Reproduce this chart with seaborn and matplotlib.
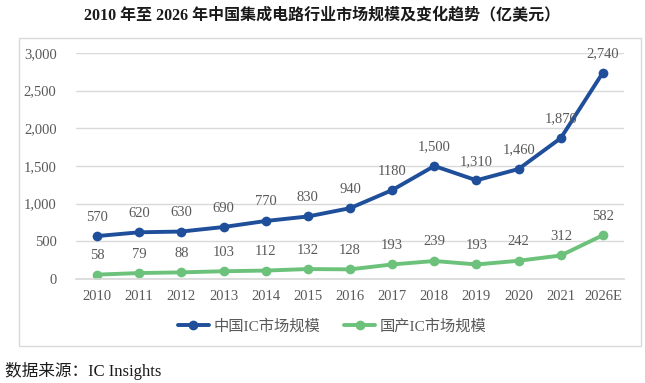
import matplotlib
matplotlib.use("Agg")
import matplotlib.pyplot as plt
import seaborn as sns
import pandas as pd
from matplotlib.patches import Rectangle
from matplotlib.lines import Line2D

years = ["2010", "2011", "2012", "2013", "2014", "2015", "2016", "2017", "2018", "2019", "2020", "2021", "2026E"]
china_ic = [570, 620, 630, 690, 770, 830, 940, 1180, 1500, 1310, 1460, 1870, 2740]
china_labels = ["570", "620", "630", "690", "770", "830", "940", "1180", "1,500", "1,310", "1,460", "1,870", "2,740"]
domestic_ic = [58, 79, 88, 103, 112, 132, 128, 193, 239, 193, 242, 312, 582]
domestic_labels = ["58", "79", "88", "103", "112", "132", "128", "193", "239", "193", "242", "312", "582"]
series_names = ["中国IC市场规模", "国产IC市场规模"]
yticks = [0, 500, 1000, 1500, 2000, 2500, 3000]
title = "2010 年至 2026 年中国集成电路行业市场规模及变化趋势（亿美元）"
source = "数据来源：IC Insights"

sns.set_theme(style="white")
FONT = ["Liberation Serif", "Noto Sans CJK SC", "DejaVu Sans"]
plt.rcParams["font.family"] = FONT

BLUE = "#1F4E9A"
GREEN = "#6CC27A"
GRAY_TXT = "#595959"

df = pd.DataFrame({
    "year": years * 2,
    "value": china_ic + domestic_ic,
    "series": [series_names[0]] * len(years) + [series_names[1]] * len(years),
})

fig = plt.figure(figsize=(6.45, 3.83), dpi=100)
W, H = 645, 383
ax = fig.add_axes([76 / W, 1 - 279 / H, (624 - 76) / W, (279 - 53) / H])

sns.lineplot(data=df, x="year", y="value", hue="series", palette=[BLUE, GREEN],
             marker="o", markersize=7, markeredgewidth=0, linewidth=2.8,
             sort=False, ax=ax, legend=False)

ax.set_xlim(-0.5, len(years) - 0.5)
ax.set_ylim(0, 3000)
ax.set_yticks(yticks)
ax.set_yticklabels([f"{v:,}" for v in yticks])
ax.grid(axis="y", color="#D9D9D9", linewidth=1)
ax.set_axisbelow(True)
for s in ["top", "right", "left"]:
    ax.spines[s].set_visible(False)
ax.spines["bottom"].set_color("#D9D9D9")
ax.set_xlabel("")
ax.set_ylabel("")
ax.tick_params(axis="both", length=0, labelsize=10.5, colors=GRAY_TXT, pad=8)
ax.tick_params(axis="y", pad=14)

for i, (v, lab) in enumerate(zip(china_ic, china_labels)):
    ax.annotate(lab, (i, v), xytext=(0, 9), textcoords="offset points",
                ha="center", va="bottom", fontsize=10.5, color=GRAY_TXT)
for i, (v, lab) in enumerate(zip(domestic_ic, domestic_labels)):
    ax.annotate(lab, (i, v), xytext=(0, 9), textcoords="offset points",
                ha="center", va="bottom", fontsize=10.5, color=GRAY_TXT)

# frame box
fig.patches.append(Rectangle((19 / W, 1 - 346 / H), (641 - 19) / W, (346 - 38) / H,
                             transform=fig.transFigure, fill=False,
                             edgecolor="#D9D9D9", linewidth=1))

handles = [Line2D([0], [0], color=BLUE, lw=2.8, marker="o", markersize=7, markeredgewidth=0),
           Line2D([0], [0], color=GREEN, lw=2.8, marker="o", markersize=7, markeredgewidth=0)]
fig.legend(handles, series_names, loc="center", bbox_to_anchor=(0.515, 1 - 326 / H),
           ncol=2, frameon=False, fontsize=11, labelcolor=GRAY_TXT,
           handlelength=2.0, columnspacing=1.6, handletextpad=0.3)

fig.text(0.5, 1 - 16 / H, title, ha="center", va="center", fontsize=11.5,
         fontweight="bold", color="#1a1a1a")
fig.text(5 / W, 1 - 371 / H, source, ha="left", va="center", fontsize=12, color="#1a1a1a")

fig.savefig("out.png", dpi=100)
